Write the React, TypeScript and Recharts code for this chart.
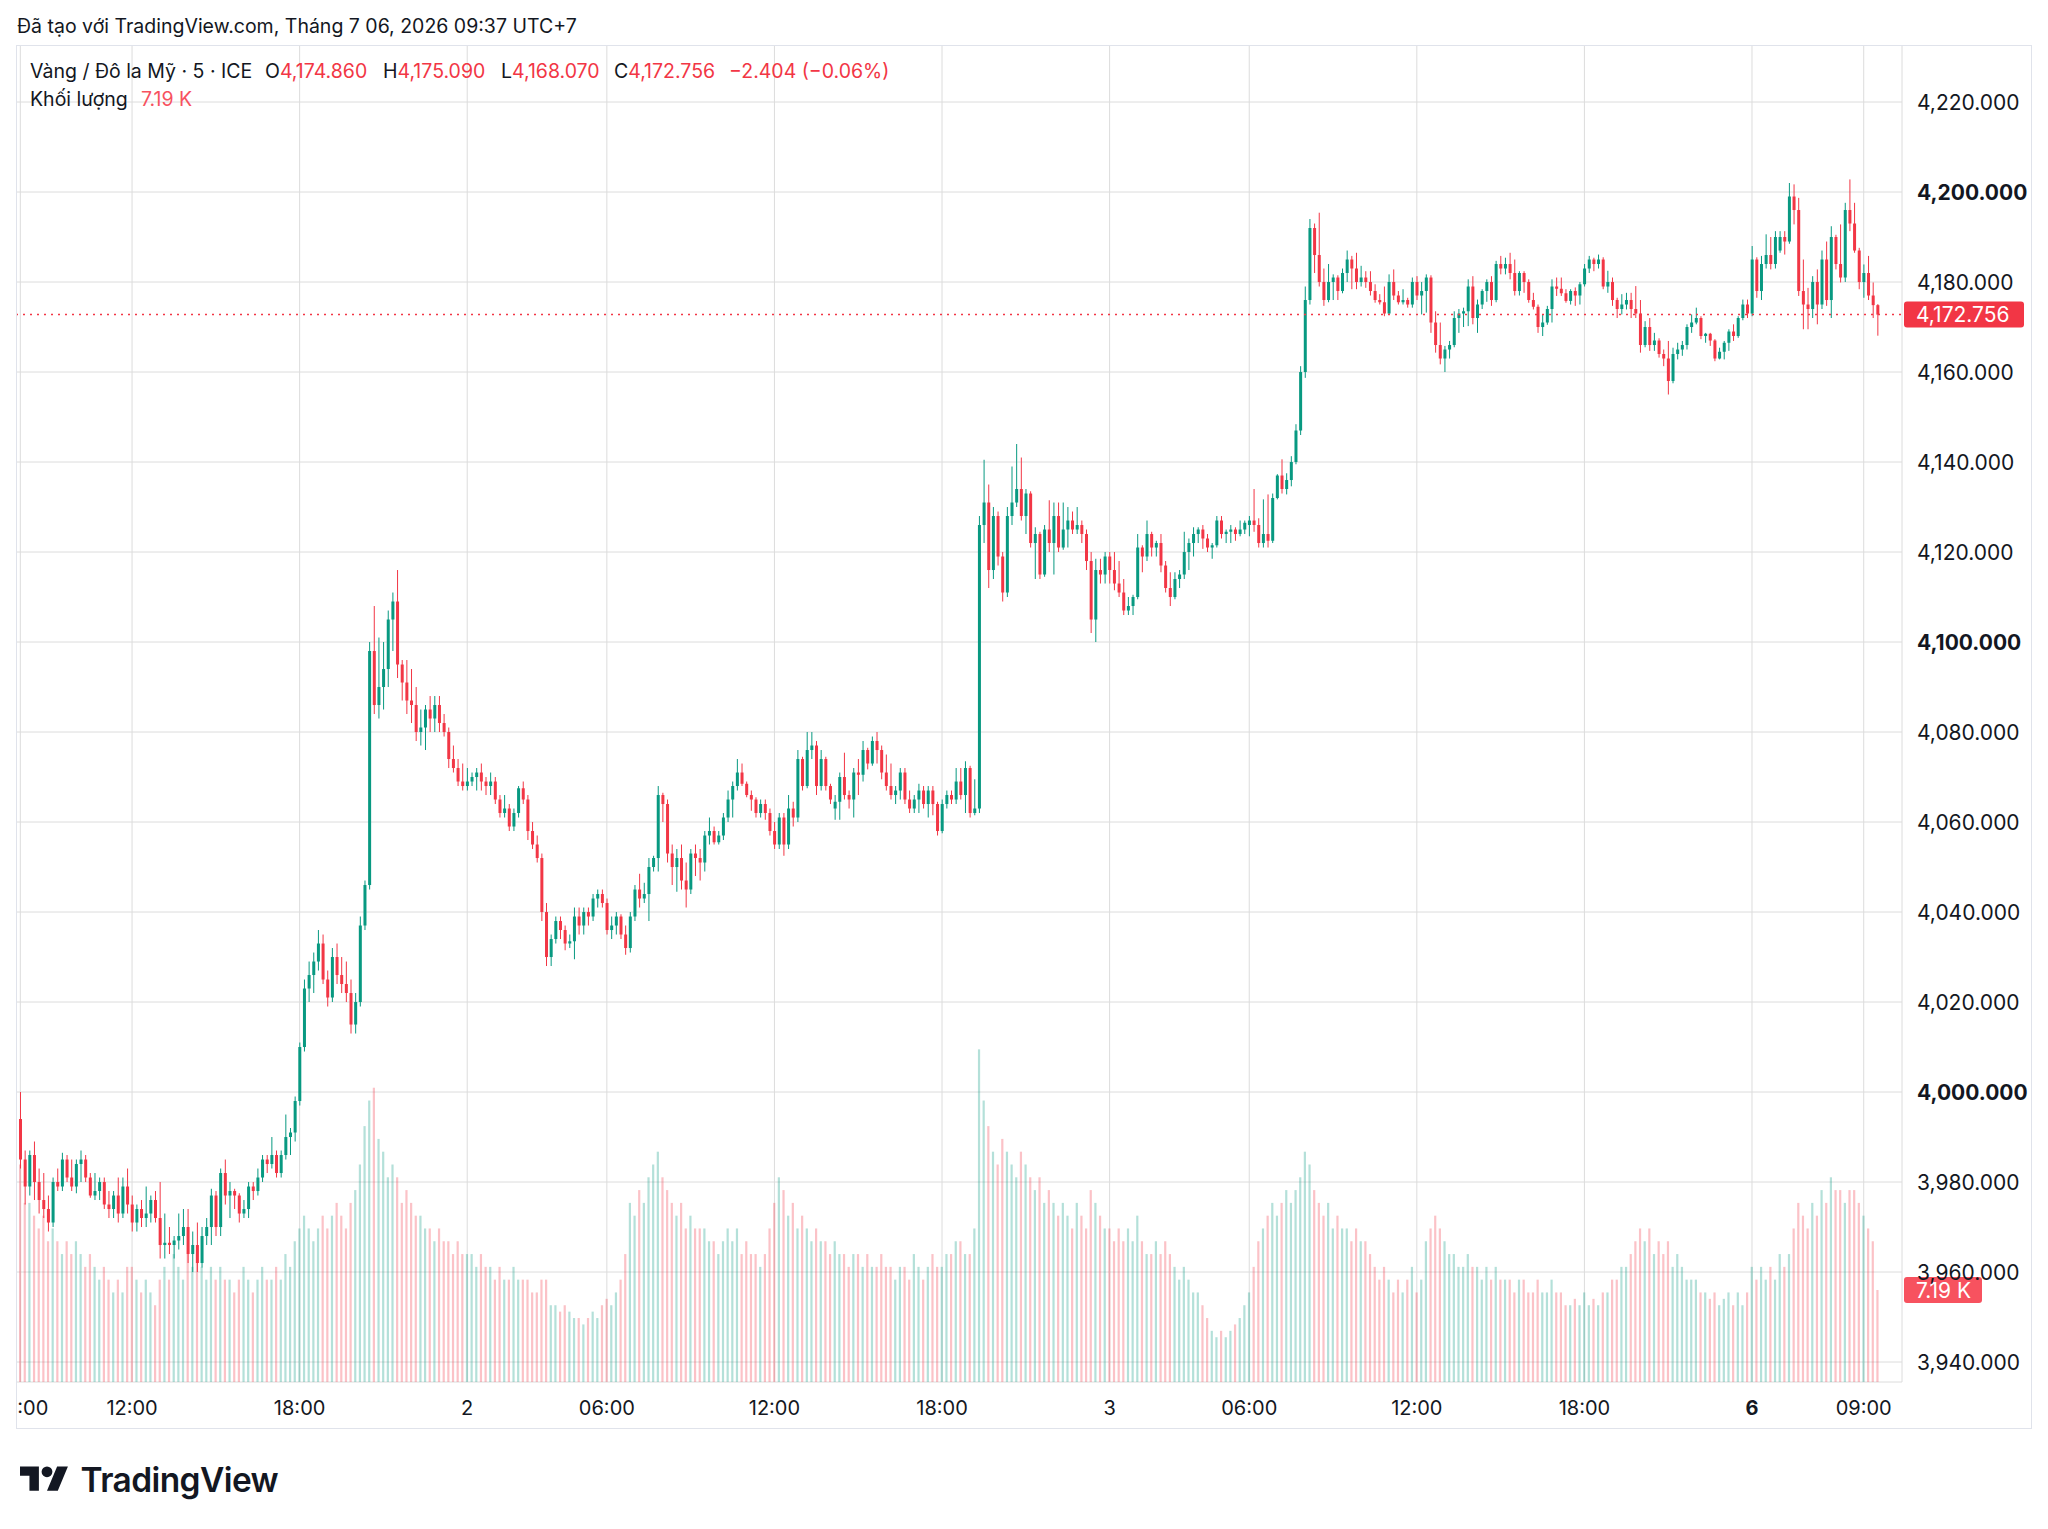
import { ComposedChart, Bar, XAxis, YAxis, CartesianGrid, ReferenceLine } from "recharts";

const FONT = "Inter, Roboto, 'Noto Sans', sans-serif";
const UP = "#089981";
const DOWN = "#f23645";
const UP_VOL = "rgba(8,153,129,0.3)";
const DOWN_VOL = "rgba(242,54,69,0.3)";

// 10-minute candles: [open, high, low, close]
// Wed 1 July, 08:00 - 24:00
const day1Candles: number[][] = [
  [3994, 4000, 3983, 3985], [3985, 3987, 3975, 3979], [3979, 3987, 3977, 3986], [3986, 3989, 3976, 3980],
  [3980, 3983, 3973, 3976], [3976, 3982, 3972, 3974], [3974, 3977, 3969, 3971], [3971, 3981, 3970, 3980],
  [3980, 3983, 3978, 3979], [3979, 3986.5, 3978, 3985], [3985, 3986, 3980, 3981], [3981, 3985, 3978, 3979],
  [3979, 3985, 3977.5, 3984], [3984, 3987, 3980, 3985], [3985, 3986, 3980, 3981], [3981, 3982, 3976.5, 3977],
  [3977, 3982, 3976, 3978], [3978, 3981, 3976, 3980], [3980, 3981, 3974, 3975], [3975, 3978, 3972, 3974],
  [3974, 3978, 3972, 3977], [3977, 3981, 3971, 3973], [3973, 3981, 3972, 3979], [3979, 3983, 3973, 3975],
  [3975, 3977, 3969, 3971], [3971, 3975, 3969, 3974], [3974, 3976, 3970, 3972], [3972, 3979, 3970, 3973],
  [3973, 3977, 3971, 3976], [3976, 3978, 3971, 3972], [3972, 3980, 3963, 3966], [3966, 3973, 3963, 3966.5],
  [3966.5, 3970, 3964, 3966], [3966, 3968, 3963, 3967], [3967, 3973, 3965, 3968], [3968, 3974, 3966, 3970],
  [3970, 3974, 3962, 3964], [3964, 3969, 3960, 3966], [3966, 3971, 3960, 3962], [3962, 3970, 3961, 3968],
  [3968, 3972, 3966, 3970], [3970, 3978.5, 3966, 3977], [3977, 3978, 3968, 3970], [3970, 3983, 3968, 3982],
  [3982, 3985, 3975, 3977], [3977, 3980, 3972, 3978], [3978, 3978.5, 3974, 3977], [3977, 3977.5, 3971, 3973],
  [3973, 3976, 3972, 3974], [3974, 3980, 3972, 3979], [3979, 3980, 3976, 3978], [3978, 3983, 3977, 3981],
  [3981, 3986, 3980, 3985], [3985, 3986, 3982, 3984], [3984, 3990, 3983, 3986], [3986, 3987, 3981, 3982],
  [3982, 3987, 3981, 3986], [3986, 3995, 3985, 3990], [3990, 3992, 3986, 3991], [3991, 3999, 3989, 3998],
  [3998, 4011, 3997, 4010], [4010, 4025, 4009, 4023], [4023, 4029, 4020, 4026], [4026, 4031, 4022, 4029],
  [4029, 4036, 4027, 4033], [4033, 4035, 4024, 4025], [4025, 4027, 4019, 4021], [4021, 4032, 4020, 4030],
  [4030, 4033, 4024, 4026], [4026, 4030, 4022, 4024], [4024, 4029, 4020, 4022], [4022, 4025, 4013, 4015],
  [4015, 4022, 4013, 4020], [4020, 4039, 4019, 4037], [4037, 4047, 4036, 4046], [4046, 4100, 4045, 4098],
  [4098, 4108, 4084, 4086], [4086, 4101, 4083, 4090], [4090, 4100, 4085, 4094], [4094, 4107, 4090, 4105],
  [4105, 4111, 4098, 4109], [4109, 4116, 4092, 4095], [4095, 4096, 4087, 4091], [4091, 4096, 4084, 4087],
  [4087, 4094, 4082, 4086], [4086, 4090, 4078, 4080], [4080, 4085, 4077, 4081], [4081, 4086, 4076, 4085],
  [4085, 4088, 4080, 4083], [4083, 4088, 4080, 4086], [4086, 4088, 4080, 4082], [4082, 4084, 4079, 4080],
  [4080, 4081, 4072, 4074], [4074, 4077, 4071, 4072], [4072, 4074, 4068, 4069], [4069, 4073, 4067, 4068],
];

// Thu 2 July, 00:00 - 04:00, 05:00 - 24:00
const day2Candles: number[][] = [
  [4068, 4072, 4067, 4069], [4069, 4071, 4068, 4070], [4070, 4072, 4067, 4071], [4071, 4073, 4067, 4069],
  [4069, 4070, 4066, 4068], [4068, 4071, 4066, 4069], [4069, 4070, 4064, 4065], [4065, 4066, 4061, 4062],
  [4062, 4066, 4061, 4063], [4063, 4064, 4058, 4059], [4059, 4063, 4058, 4062], [4062, 4068, 4061, 4067.5],
  [4067.5, 4069, 4064, 4065], [4065, 4066, 4056, 4058], [4058, 4060, 4054, 4055], [4055, 4057, 4051, 4052],
  [4052, 4053, 4038, 4040], [4040, 4042, 4028, 4030], [4030, 4035, 4028, 4034], [4034, 4039, 4033, 4038],
  [4038, 4039, 4034, 4036], [4036, 4037, 4031.5, 4033], [4033, 4035, 4032, 4033.5], [4033.5, 4041, 4029.5, 4039],
  [4039, 4041, 4035, 4037], [4037, 4041, 4035, 4040], [4040, 4041, 4037, 4039], [4039, 4044, 4038, 4043],
  [4043, 4045, 4041, 4044], [4044, 4045, 4041, 4042], [4042, 4043, 4035, 4036], [4036, 4039, 4034, 4037],
  [4037, 4040, 4035, 4039], [4039, 4039.5, 4034, 4035], [4035, 4037, 4030.5, 4032], [4032, 4040, 4031, 4039],
  [4039, 4046, 4038, 4045], [4045, 4048.5, 4041, 4043], [4043, 4046.5, 4042, 4044], [4044, 4052, 4038, 4050],
  [4050, 4052.5, 4049, 4052], [4052, 4068, 4049, 4066], [4066, 4066.5, 4060, 4064], [4064, 4065, 4051, 4053],
  [4053, 4055, 4046, 4050], [4050, 4054, 4044.5, 4052], [4052, 4055, 4045, 4047], [4047, 4051, 4041, 4045],
  [4045, 4054, 4044, 4053], [4053, 4055, 4048, 4052], [4052, 4054, 4047, 4051], [4051, 4058, 4049, 4057],
  [4057, 4061, 4055, 4058], [4058, 4059, 4055, 4055.5], [4055.5, 4058, 4055, 4057], [4057, 4062, 4056, 4061],
  [4061, 4067, 4060, 4065], [4065, 4069, 4061, 4068], [4068, 4074, 4067, 4071], [4071, 4073, 4068, 4068.5],
  [4068.5, 4069, 4065.5, 4066], [4066, 4067, 4062.5, 4065], [4065, 4065.5, 4061, 4062], [4062, 4065, 4061, 4064],
  [4064, 4065, 4060.5, 4062], [4062, 4063, 4057, 4058], [4058, 4060, 4054, 4055], [4055, 4062, 4054, 4061],
  [4061, 4062, 4052.5, 4055], [4055, 4066, 4054, 4063], [4063, 4064.5, 4059, 4061], [4061, 4076, 4060, 4074],
  [4074, 4074.5, 4067, 4068], [4068, 4080, 4067.5, 4076], [4076, 4080, 4074, 4077], [4077, 4078, 4066, 4068],
  [4068, 4076, 4067, 4074], [4074, 4074.5, 4067, 4068], [4068, 4068.5, 4064, 4065], [4063, 4066, 4060.5, 4064.5],
  [4064.5, 4071, 4060.5, 4070], [4070, 4075.4, 4065, 4066], [4066, 4067, 4063, 4065], [4065, 4072, 4061, 4071],
  [4071, 4074, 4066, 4070.5], [4070.5, 4078, 4069, 4076], [4076, 4076.5, 4071.7, 4073], [4073, 4079, 4072.5, 4078],
  [4078, 4080, 4073, 4076], [4076, 4077, 4069.5, 4071], [4071, 4075, 4067, 4068], [4068, 4073, 4065, 4066],
  [4066, 4068, 4064, 4067], [4067, 4072, 4065, 4071], [4071, 4072, 4064, 4065], [4065, 4067, 4062, 4063],
  [4063, 4066, 4062, 4065], [4065, 4068.5, 4062, 4067], [4067, 4068, 4063, 4064], [4064, 4068, 4061, 4067],
  [4067, 4068, 4061.5, 4064], [4064, 4064.5, 4057, 4058], [4058, 4065, 4057.5, 4064], [4064, 4067, 4063, 4066],
  [4066, 4067, 4064, 4065], [4065, 4072, 4064, 4069], [4069, 4072, 4065, 4066], [4066, 4073.5, 4062, 4072],
  [4072, 4072.5, 4061, 4062], [4062, 4069.5, 4061.5, 4063], [4063, 4128, 4062, 4126], [4126, 4140.5, 4122, 4131],
  [4131, 4135, 4112, 4116], [4116, 4130, 4114, 4128], [4128, 4129, 4117, 4119], [4119, 4120, 4109, 4111],
  [4111, 4130, 4110, 4128], [4128, 4139, 4126, 4131], [4131, 4144, 4130, 4134], [4134, 4141, 4127, 4128],
  [4128, 4134, 4124, 4133], [4133, 4133.5, 4121, 4122], [4122, 4125.5, 4114, 4124], [4124, 4124.5, 4114, 4115],
  [4115, 4126, 4114.5, 4125], [4125, 4131.5, 4120, 4122], [4122, 4131, 4115, 4128], [4128, 4131, 4120, 4121],
  [4121, 4131, 4120.5, 4125], [4125, 4130, 4121, 4127], [4127, 4129, 4124, 4125], [4125, 4130, 4124, 4126],
  [4126, 4127, 4122, 4124], [4124, 4125, 4116, 4118], [4118, 4120, 4102, 4105], [4105, 4118.5, 4100, 4116],
  [4116, 4118.5, 4113, 4115], [4115, 4120, 4113, 4119],
];

// Fri 3 July, 00:00 - 04:00, 05:00 - 24:00
const day3Candles: number[][] = [
  [4119, 4120, 4113, 4116], [4116, 4120, 4111.5, 4113], [4113, 4118, 4110, 4111], [4111, 4114, 4106, 4107],
  [4107, 4110, 4106, 4108], [4108, 4110.5, 4106, 4110], [4110, 4124, 4109.5, 4121], [4121, 4121.5, 4115.5, 4119],
  [4119, 4127, 4118, 4124], [4124, 4124.5, 4119, 4121], [4121, 4122.5, 4119, 4122], [4122, 4124, 4115.5, 4117],
  [4117, 4118, 4111, 4112], [4112, 4115.5, 4108, 4110], [4110, 4115.5, 4109.5, 4114], [4114, 4116, 4112, 4115],
  [4115, 4124.5, 4114, 4120], [4120, 4123, 4116, 4122], [4122, 4125.5, 4119, 4124], [4124, 4125.5, 4122, 4125],
  [4125, 4126, 4120.7, 4123], [4123, 4124, 4120, 4121], [4121, 4122, 4118.5, 4121.5], [4121.5, 4128, 4121, 4127],
  [4127, 4128, 4123, 4124], [4124, 4125, 4122, 4124.5], [4124.5, 4126, 4122, 4125], [4125, 4125.5, 4122.5, 4124],
  [4124, 4127, 4123.5, 4125], [4125, 4127, 4124, 4126.5], [4126, 4128, 4123.5, 4127], [4127, 4134, 4124.5, 4126],
  [4126, 4127.5, 4121, 4122], [4122, 4131.7, 4121, 4124], [4124, 4132.8, 4121, 4122.5], [4122.5, 4133, 4122, 4132],
  [4132, 4137.3, 4131.7, 4137], [4137, 4140.6, 4133, 4134], [4134, 4137.5, 4132.8, 4136], [4136, 4141.3, 4134.6, 4140],
  [4140, 4148.4, 4139.5, 4147], [4147, 4161.3, 4146, 4160], [4160, 4179, 4158.7, 4176], [4176, 4194, 4175, 4192],
  [4192, 4193, 4182, 4186], [4186, 4195.4, 4179, 4180], [4180, 4183, 4174.7, 4176], [4176, 4184, 4175.5, 4180],
  [4180, 4181.7, 4176, 4181], [4181, 4181.5, 4176, 4178], [4178, 4183, 4177.5, 4182], [4182, 4187, 4180, 4185],
  [4185, 4185.8, 4178.4, 4183], [4183, 4186.5, 4178.4, 4180], [4180, 4183.6, 4179, 4181], [4181, 4182.4, 4178.7, 4180],
  [4180, 4182.4, 4177, 4178], [4178, 4179.5, 4175.4, 4176], [4176, 4177.3, 4175, 4175.5], [4175.5, 4179, 4172.4, 4173],
  [4173, 4181.7, 4172.8, 4180], [4180, 4182.8, 4176, 4177], [4177, 4178, 4175, 4175.5], [4175.5, 4178.4, 4175, 4176],
  [4176, 4176.5, 4174.3, 4175], [4175, 4181, 4174.3, 4180], [4180, 4181.3, 4176, 4177], [4177, 4180, 4172.8, 4178],
  [4178, 4181.7, 4173.2, 4181], [4181, 4181.5, 4168.7, 4171], [4171, 4173.5, 4164.3, 4166], [4166, 4171, 4161.7, 4163],
  [4163, 4165.8, 4160, 4165], [4165, 4166.9, 4163, 4166], [4166, 4173.5, 4165.5, 4172], [4172, 4174, 4168.7, 4173],
  [4173, 4174.3, 4170, 4173.5], [4173.5, 4180.6, 4170.2, 4179], [4179, 4181.3, 4170.6, 4172], [4172, 4176.1, 4168.7, 4175],
  [4175, 4178.4, 4174, 4178], [4178, 4180.6, 4175.6, 4180], [4180, 4181.3, 4174.7, 4176], [4176, 4184.7, 4175.5, 4184],
  [4184, 4185.8, 4181.7, 4183], [4183, 4185.4, 4181.7, 4184], [4184, 4186.5, 4180.6, 4182], [4182, 4185, 4177, 4178],
  [4178, 4182.4, 4177, 4182], [4182, 4182.4, 4177.6, 4180], [4180, 4180.6, 4175.4, 4176], [4176, 4177.6, 4173.9, 4174.5],
  [4174.5, 4175, 4168.7, 4170], [4170, 4172.8, 4168, 4171], [4171, 4174.7, 4170.5, 4174], [4174, 4180.6, 4171, 4179],
  [4179, 4181, 4176.9, 4178.5], [4178.5, 4181, 4176.9, 4177.5], [4177.5, 4178.4, 4175.4, 4175.8], [4175.8, 4178.4, 4175, 4178],
  [4178, 4178.8, 4174.7, 4177], [4177, 4180, 4175, 4179.5], [4179.5, 4184, 4179, 4183], [4183, 4185.8, 4182, 4185],
  [4185, 4185.4, 4182.4, 4184], [4184, 4186.1, 4183, 4185], [4185, 4185.5, 4178.4, 4179], [4179, 4182.5, 4177.6, 4180],
  [4180, 4181, 4174.7, 4176], [4176, 4176.5, 4172, 4174], [4174, 4177.3, 4172.8, 4175], [4175, 4177.6, 4173.9, 4176],
  [4176, 4177.6, 4172, 4174], [4174, 4179.1, 4172, 4173], [4173, 4176, 4164.3, 4166], [4166, 4171.3, 4165.5, 4170],
  [4170, 4172, 4164.7, 4166], [4166, 4168.7, 4164.7, 4167], [4167, 4167.5, 4163.2, 4164], [4164, 4165, 4161.3, 4163],
  [4163, 4166.9, 4155, 4158], [4158, 4165.4, 4157.5, 4164], [4164, 4166.5, 4162.8, 4165], [4165, 4166.9, 4163.6, 4166],
  [4166, 4170.6, 4165, 4170], [4170, 4172.8, 4168.7, 4171], [4171, 4174.3, 4170.6, 4172], [4172, 4172.4, 4167.3, 4168],
  [4168, 4168.7, 4166.5, 4168.5], [4168.5, 4168.7, 4165.8, 4167], [4167, 4167.3, 4162.4, 4163], [4163, 4165.4, 4162.8, 4164.5],
  [4164.5, 4166.9, 4162.8, 4166.5], [4166.5, 4169.5, 4164.7, 4169], [4169, 4170.6, 4166.9, 4168], [4168, 4172.4, 4167.6, 4172],
  [4172, 4176.1, 4171.5, 4175], [4175, 4176.1, 4172, 4173],
];

// Mon 6 July, 05:00 - 09:35
const day6Candles: number[][] = [
  [4173, 4188, 4172.4, 4185], [4185, 4185.5, 4176.5, 4178], [4178, 4185.8, 4176, 4184], [4184, 4190.6, 4183, 4186],
  [4186, 4190, 4182.8, 4184], [4184, 4191.3, 4183, 4190], [4187, 4191.3, 4186.5, 4190], [4190, 4191.3, 4186.1, 4189],
  [4189, 4202, 4188.5, 4199], [4199, 4201.7, 4192.8, 4196], [4196, 4198.7, 4176.9, 4178], [4178, 4185, 4169.5, 4175],
  [4175, 4178.7, 4169.5, 4174], [4174, 4181.3, 4172, 4180], [4180, 4182.8, 4170.6, 4175], [4175, 4187, 4174, 4185],
  [4185, 4189, 4174.7, 4176], [4176, 4192.4, 4172, 4190], [4190, 4190.5, 4182.8, 4184], [4184, 4192.8, 4179.9, 4181],
  [4181, 4197.6, 4180, 4196], [4196, 4202.8, 4191.3, 4193], [4193, 4197.6, 4186.5, 4187], [4187, 4187.6, 4178.4, 4180],
  [4180, 4183.9, 4176.5, 4182], [4182, 4185.8, 4176, 4177], [4177, 4179.9, 4172, 4174.86], [4174.86, 4175.09, 4168.07, 4172.756],
];

// volume per candle, thousands
const day1Volume = [
  17, 14, 14, 13, 12, 13, 11, 12, 11, 10, 11, 10, 11, 10, 9, 10, 9, 8, 9, 8,
  7, 8, 7, 9, 9, 8, 7, 8, 7, 6, 8, 9, 8, 10, 9, 8, 10, 9, 10, 9,
  8, 9, 8, 9, 8, 8, 7, 8, 9, 8, 7, 8, 9, 8, 8, 9, 8, 10, 9, 11,
  12, 13, 12, 11, 12, 13, 12, 13, 14, 13, 12, 14, 15, 17, 20, 22, 23, 19, 18, 16,
  17, 16, 14, 15, 14, 13, 13, 12, 12, 11, 12, 11, 11, 10, 11, 10,
];
const day2Volume = [
  10, 10, 9, 10, 9, 9, 8, 9, 8, 8, 9, 8, 8, 8, 7, 7, 8, 8, 6,
  6, 5.5, 6, 5.5, 5, 5, 4.5, 5, 5.5, 5, 6, 6.5, 6, 7, 8, 10, 14, 13,
  15, 14, 16, 17, 18, 16, 15, 14, 13, 14, 12, 13, 12, 12,
  12, 11, 11, 10, 11, 12, 11, 12, 10, 11, 10, 10, 9, 10,
  12, 14, 16, 15, 13, 14, 12, 13, 12, 11, 12, 11, 11,
  10, 11, 10, 10, 9, 10, 10, 9, 10, 9, 9, 10, 9, 9, 8, 9, 9, 8, 10, 9, 8, 9, 10, 9,
  9, 10, 10, 11, 11, 10, 10, 12, 26, 22,
  20, 18, 17, 19, 18, 17, 16, 18, 17, 16, 15, 16, 14,
  15, 14, 13, 14, 13, 12, 14, 13, 12, 15, 14, 13, 12,
];
const day3Volume = [
  12, 11, 12, 11, 12, 11, 13, 11, 10, 10, 11, 10, 11, 10,
  9, 8, 9, 8, 7, 7, 6, 5, 4, 3.5, 4, 3.5, 4, 4.5, 5, 6, 7,
  9, 11, 12, 13, 14, 13, 14, 15, 14, 15, 16, 18, 17,
  15, 14, 13, 14, 12, 13, 12, 12, 11, 12, 11, 11, 10,
  9, 8, 9, 8, 7, 8, 7, 8, 9, 7, 8, 11, 12, 13, 12, 11, 10,
  10, 9, 9, 10, 9, 9, 8, 9, 8, 9, 8, 8, 8, 7, 8, 8, 7, 7, 8, 7, 7, 8, 7, 7, 6,
  6, 6.5, 6, 7, 6, 6.5, 6, 7, 7, 8, 8, 9, 9, 10,
  11, 12, 11, 12, 10, 11, 10, 11, 9, 10, 9, 8, 8, 8,
  7, 7, 6.5, 7, 6, 6.5, 7, 6, 7, 6, 7,
];
const day6Volume = [
  9, 8, 9, 8, 9, 8, 10, 9, 10, 12,
  14, 13, 12, 14, 13, 15, 14, 16, 15, 15, 14, 15, 15, 14, 13, 12, 11, 7.19,
];

const tickIndex = [0, 24, 60, 96, 126, 162, 198, 234, 264, 300, 336, 372, 396];
const tickText = ["08:00", "12:00", "18:00", "2", "06:00", "12:00", "18:00", "3", "06:00", "12:00", "18:00", "6", "09:00"];
const priceTicks = [3940, 3960, 3980, 4000, 4020, 4040, 4060, 4080, 4100, 4120, 4140, 4160, 4180, 4200, 4220];
const lastPrice = 4172.756;
const lastVolume = 7.19;

const candleDays = [day1Candles, day2Candles, day3Candles, day6Candles];
const volumeDays = [day1Volume, day2Volume, day3Volume, day6Volume];

const rows = candleDays
  .flatMap((day, d) =>
    day.map((k, j) => ({ o: k[0], h: k[1], l: k[2], c: k[3], v: volumeDays[d][j] }))
  )
  .map((r, i) => ({ ...r, i, up: r.c >= r.o }));

const fmtPrice = (p: number) =>
  p.toLocaleString("en-US", { minimumFractionDigits: 3, maximumFractionDigits: 3 });

function Candle(props: any) {
  const { x, y, width, height, payload } = props;
  if (!payload || x == null || y == null) return null;
  const top = Math.min(y, y + height);
  const span = Math.abs(height);
  const { o, h, l, c } = payload;
  const k = h > l ? span / (h - l) : 0;
  const yO = top + (h - o) * k;
  const yC = top + (h - c) * k;
  const color = c >= o ? UP : DOWN;
  const cx = x + width / 2;
  const bw = 3;
  return (
    <g>
      <line x1={cx} x2={cx} y1={top} y2={top + span} stroke={color} strokeWidth={1} />
      <rect x={cx - bw / 2} y={Math.min(yO, yC)} width={bw} height={Math.max(1, Math.abs(yO - yC))} fill={color} />
    </g>
  );
}

function VolBar(props: any) {
  const { x, y, width, height, payload } = props;
  if (!payload || x == null) return null;
  return <rect x={x} y={y} width={width} height={height} fill={payload.up ? UP_VOL : DOWN_VOL} />;
}

function TimeTick(props: any) {
  const { x, y, payload } = props;
  const label = tickText[tickIndex.indexOf(payload.value)];
  return (
    <text x={x} y={y + 26} textAnchor="middle" dominantBaseline="central" fontSize={20}
      fontWeight={label === "6" ? 700 : 400} fill="#131722" fontFamily={FONT}>
      {label}
    </text>
  );
}

function PriceTick(props: any) {
  const { x, y, payload } = props;
  const bold = payload.value % 100 === 0;
  return (
    <text x={x + 15} y={y} textAnchor="start" dominantBaseline="central" fontSize={21}
      fontWeight={bold ? 700 : 400} fill="#131722" fontFamily={FONT}>
      {fmtPrice(payload.value)}
    </text>
  );
}

function PriceTag(props: any) {
  const y = props.viewBox?.y ?? 0;
  return (
    <g>
      <line x1={0} x2={1886} y1={y} y2={y} stroke={DOWN} strokeWidth={1.5} strokeDasharray="2 5" />
      <rect x={1888} y={y - 13} width={120} height={26} rx={3} fill={DOWN} />
      <text x={1900} y={y} dominantBaseline="central" fontSize={21} fill="#fff" fontFamily={FONT}>
        {fmtPrice(lastPrice)}
      </text>
    </g>
  );
}

function VolumeTag(props: any) {
  const y = props.viewBox?.y ?? 0;
  return (
    <g>
      <rect x={1888} y={y - 13} width={78} height={26} rx={3} fill="#f7525f" />
      <text x={1900} y={y} dominantBaseline="central" fontSize={21} fill="#fff" fontFamily={FONT}>
        {lastVolume.toFixed(2)} K
      </text>
    </g>
  );
}

function Logo() {
  return (
    <div style={{ position: "absolute", left: 20, top: 1460, display: "flex", alignItems: "center" }}>
      <svg width={48.6} height={37.8} viewBox="0 0 36 28">
        <path d="M14 22H7V11H0V4h14v18zM28 22h-8l7.5-18h8L28 22z" fill="#131722" />
        <circle cx="20" cy="8" r="4" fill="#131722" />
      </svg>
      <span style={{ marginLeft: 12, fontSize: 33.5, fontWeight: 600, letterSpacing: -0.6, color: "#131722" }}>
        TradingView
      </span>
    </div>
  );
}

const line = { position: "absolute" as const, top: 59, fontSize: 19.5, lineHeight: "24px", whiteSpace: "nowrap" as const };

export default function App() {
  const red = { color: DOWN };
  return (
    <div style={{ position: "absolute", left: 0, top: 0, width: 2048, height: 1529, background: "#fff",
      fontFamily: FONT, color: "#131722" }}>
      <div style={{ position: "absolute", left: 17, top: 14, fontSize: 19.5, lineHeight: "24px" }}>
        Đã tạo với TradingView.com, Tháng 7 06, 2026 09:37 UTC+7
      </div>
      <div style={{ position: "absolute", left: 16, top: 45 }}>
        <ComposedChart width={2016} height={1384} data={rows} barCategoryGap={0} barGap={0}
          margin={{ top: 0, right: 0, bottom: 0, left: 0 }}>
          <CartesianGrid xAxisId="main" yAxisId="price" stroke="#dcdcdc" />
          <XAxis xAxisId="main" dataKey="i" type="category" ticks={tickIndex} interval={0}
            height={47} tickSize={0} tickMargin={0} axisLine={false} tick={<TimeTick />}
            padding={{ left: 2, right: 22 }} />
          <XAxis xAxisId="vol" dataKey="i" type="category" hide padding={{ left: 2, right: 22 }} />
          <YAxis yAxisId="price" orientation="right" width={130} domain={[3935.56, 4232.67]}
            allowDataOverflow ticks={priceTicks} interval={0} tickSize={0} tickMargin={0}
            axisLine={false} tick={<PriceTick />} />
          <YAxis yAxisId="vol" hide domain={[0, 104.5]} allowDataOverflow />
          <Bar xAxisId="vol" yAxisId="vol" dataKey="v" barSize={2.2} shape={(p: any) => <VolBar {...p} />}
            isAnimationActive={false} />
          <Bar xAxisId="main" yAxisId="price" dataKey={(d: any) => [d.l, d.h]}
            shape={(p: any) => <Candle {...p} />} isAnimationActive={false} />
          <ReferenceLine xAxisId="vol" yAxisId="vol" y={lastVolume} strokeOpacity={0}
            label={(p: any) => <VolumeTag {...p} />} />
          <ReferenceLine xAxisId="main" yAxisId="price" y={lastPrice} strokeOpacity={0}
            label={(p: any) => <PriceTag {...p} />} />
        </ComposedChart>
      </div>
      <div style={{ position: "absolute", left: 16, top: 45, width: 2016, height: 1384,
        border: "1px solid #e0e3eb", boxSizing: "border-box", pointerEvents: "none" }} />
      <div style={{ ...line, left: 30 }}>Vàng / Đô la Mỹ · 5 · ICE</div>
      <div style={{ ...line, left: 265 }}>O<span style={red}>4,174.860</span></div>
      <div style={{ ...line, left: 383 }}>H<span style={red}>4,175.090</span></div>
      <div style={{ ...line, left: 501 }}>L<span style={red}>4,168.070</span></div>
      <div style={{ ...line, left: 614 }}>C<span style={red}>4,172.756</span></div>
      <div style={{ ...line, left: 729, color: DOWN }}>−2.404 (−0.06%)</div>
      <div style={{ ...line, left: 30, top: 87 }}>Khối lượng</div>
      <div style={{ ...line, left: 141, top: 87, color: "#f7525f" }}>7.19 K</div>
      <Logo />
    </div>
  );
}
